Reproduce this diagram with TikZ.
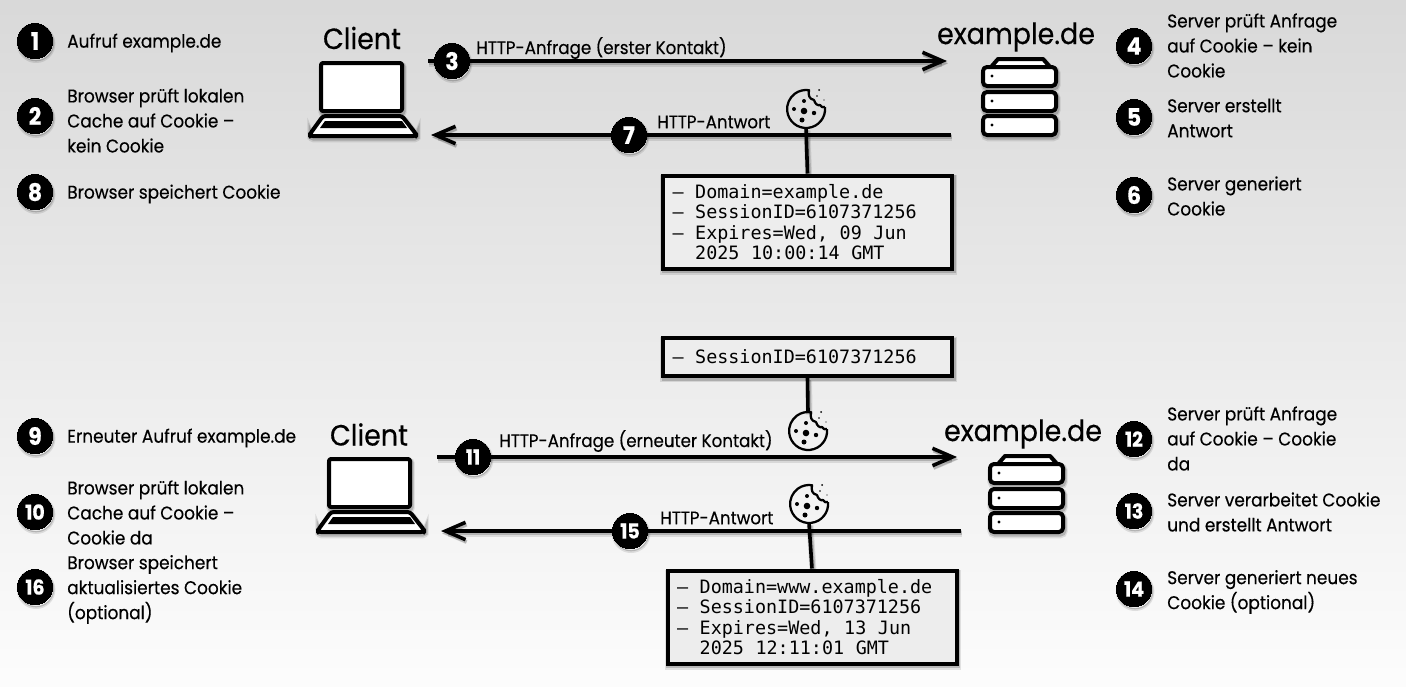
\documentclass[tikz,border=0pt]{standalone}
\usepackage{fontspec}
\setmainfont{Poppins}[FakeStretch=0.92,FakeBold=0.35]
\newfontfamily\monof{DejaVu Sans Mono}
\usetikzlibrary{arrows.meta}
\definecolor{bgtop}{gray}{0.85}
\definecolor{bgbot}{gray}{0.99}
\definecolor{boxfill}{gray}{0.93}
\newcommand{\msp}{\ \kern4.1pt\relax}
\tikzset{
  softshadow/.style={preaction={draw=black,opacity=.10,line width=#1+2.5pt,transform canvas={xshift=.8pt,yshift=-2pt}},
                     preaction={draw=black,opacity=.18,line width=#1+.8pt,transform canvas={xshift=.8pt,yshift=-1.6pt}}},
  wire/.style={draw=black,line width=2.7pt,softshadow=2.7pt},
  flow/.style={wire,-{Straight Barb[length=15pt,width=13pt,line width=2.7pt]}},
  badge/.style={circle,fill=black,draw=black,line width=0pt,minimum size=26.5pt,inner sep=0pt,text=white,
     font=\fontsize{18}{18}\selectfont\bfseries,softshadow=0pt},
  dbl/.style={font=\fontsize{15.5}{15.5}\selectfont\bfseries},
  step text/.style={anchor=west,align=left,inner sep=0pt,font=\fontsize{13.8}{18.75}\selectfont},
  title/.style={anchor=center,inner sep=0pt,font=\fontsize{22}{24}\selectfont},
  conn label/.style={anchor=west,inner sep=0pt,font=\fontsize{13.6}{15}\selectfont},
  cookiespot/.style={circle,minimum size=28.5pt,inner sep=0pt,outer sep=0pt},
  cookiebox/.style={draw=black,line width=3pt,fill=boxfill,softshadow=3pt,inner sep=0pt,align=left,
     font=\monof\fontsize{13.8}{15.4}\selectfont},
  thick icon/.style={draw=black,line width=3pt,fill=white,line join=round},
  laptop/.pic={
    \draw[thick icon,softshadow=3pt,rounded corners=1.5pt] (0,0) rectangle (81,48);
    \draw[thick icon,softshadow=3pt,rounded corners=2pt] (2,53) -- (-11,71) -- (-11,73) -- (95,73) -- (95,71) -- (81,53) -- cycle;
    \fill[black] (4,58) -- (-1,65) -- (86,65) -- (81,58) -- cycle;
  },
  server/.pic={
    \draw[thick icon,softshadow=3pt] (8,9) -- (15,1) -- (60,1) -- (67,9) -- cycle;
    \draw[thick icon,softshadow=3pt,rounded corners=3pt] (0,9) rectangle (73,28);
    \draw[thick icon,softshadow=3pt,rounded corners=3pt] (0,34) rectangle (73,53);
    \draw[thick icon,softshadow=3pt,rounded corners=3pt] (0,58) rectangle (73,77);
    \fill[black] (9,18) circle[radius=1.7] (9,43) circle[radius=1.7] (9,67) circle[radius=1.7];
  },
  cookie/.pic={
    \draw[black,line width=1.7pt,line join=round] (19,-2) arc[start angle=-6,end angle=279,radius=19]
       .. controls (2,-14) and (3,-10) .. (8,-9)
       .. controls (9,-5) and (12,-3) .. (14,-4)
       .. controls (15,-2) and (17,-1) .. (19,-2);
    \fill[black] (-2,2) circle[radius=3.3] (-12,0) circle[radius=2] (-2,-8) circle[radius=2]
       (8,4) circle[radius=2.2] (-4,11) circle[radius=2.5]
       (13,-19) circle[radius=1] (11,-13) circle[radius=.9] (18,-9) circle[radius=.6];
  }
}
\begin{document}
\begin{tikzpicture}[x=0.75pt,y=-0.75pt]
\shade[top color=bgtop,bottom color=bgbot] (0,0) rectangle (1406,686);
\useasboundingbox (0,0) rectangle (1406,686);

% named ends
\coordinate (req1s) at (428,61);  \coordinate (req1e) at (947,61);
\coordinate (res1s) at (951,135); \coordinate (res1e) at (431,135);
\coordinate (req2s) at (437,457); \coordinate (req2e) at (957,457);
\coordinate (res2s) at (961,531); \coordinate (res2e) at (441,531);

% connectors
\draw[flow] (req1s) -- (req1e);
\draw[flow] (res1s) -- (res1e);
\draw[flow] (req2s) -- (req2e);
\draw[flow] (res2s) -- (res2e);

% cookie anchors and boxes
\node[cookiespot] (ck1) at (806,109) {};
\node[cookiespot] (ck2) at (808,431) {};
\node[cookiespot] (ck3) at (809,504) {};
\node[cookiebox,minimum width=216.75pt,minimum height=69.75pt,text width=202.5pt] (box1) at (807.5,222) {–\msp Domain=example.de\\–\msp SessionID=6107371256\\–\msp Expires=Wed,\msp 09\msp Jun\\\phantom{–}\msp 2025\msp 10:00:14\msp GMT};
\node[cookiebox,minimum width=216.75pt,minimum height=28.5pt,text width=202.5pt] (box2) at (807.5,357) {–\msp SessionID=6107371256};
\node[cookiebox,minimum width=216.75pt,minimum height=69.75pt,text width=202.5pt] (box3) at (812,617) {–\msp Domain=www.example.de\\–\msp SessionID=6107371256\\–\msp Expires=Wed,\msp 13\msp Jun\\\phantom{–}\msp 2025\msp 12:11:01\msp GMT};
\draw[wire] (ck1.south) -- (box1.north);
\draw[wire] (box2.south) -- (ck2.north);
\draw[wire] (ck3.south) -- (box3.north);
\pic at (ck1) {cookie};
\pic at (ck2) {cookie};
\pic at (ck3) {cookie};

% icons
\pic at (321,63) {laptop};
\pic at (329,459) {laptop};
\pic at (983,58) {server};
\pic at (990,455) {server};

% titles
\node[title] (cl1) at (362,38) {Client};
\node[title] (ex1) at (1016,37) {example.de};
\node[title] (cl2) at (369,434.5) {Client};
\node[title] (ex2) at (1023,434) {example.de};

% connector labels
\node[conn label] (l3) at (476,48) {HTTP-Anfrage (erster Kontakt)};
\node[conn label] (l7) at (657,122) {HTTP-Antwort};
\node[conn label] (l11) at (499,441) {HTTP-Anfrage (erneuter Kontakt)};
\node[conn label] (l15) at (660,518) {HTTP-Antwort};

% badges
\node[badge] (b1) at (35,41) {1};
\node[badge] (b2) at (35,116) {2};
\node[badge] (b8) at (35,192) {8};
\node[badge] (b3) at (452,61) {3};
\node[badge] (b7) at (629,135) {7};
\node[badge] (b4) at (1134,46) {4};
\node[badge] (b5) at (1134,117) {5};
\node[badge] (b6) at (1134,195) {6};
\node[badge] (b9) at (35,436) {9};
\node[badge,dbl] (b10) at (35,512) {10};
\node[badge,dbl] (b16) at (35,587) {16};
\node[badge,dbl] (b11) at (473,457) {11};
\node[badge,dbl] (b15) at (630,531) {15};
\node[badge,dbl] (b12) at (1134,439) {12};
\node[badge,dbl] (b13) at (1134,511) {13};
\node[badge,dbl] (b14) at (1134,589) {14};

% step texts
\node[step text] (t1) at (67,43) {Aufruf example.de};
\node[step text] (t2) at (67,120.5) {Browser prüft lokalen\\Cache auf Cookie –\\kein Cookie};
\node[step text] (t8) at (67,194) {Browser speichert Cookie};
\node[step text] (t4) at (1167,45.5) {Server prüft Anfrage\\auf Cookie – kein\\Cookie};
\node[step text] (t5) at (1167,118) {Server erstellt\\Antwort};
\node[step text] (t6) at (1167,196) {Server generiert\\Cookie};
\node[step text] (t9) at (67,438) {Erneuter Aufruf example.de};
\node[step text] (t10) at (67,512.5) {Browser prüft lokalen\\Cache auf Cookie –\\Cookie da};
\node[step text] (t16) at (67,589.5) {Browser speichert\\aktualisiertes Cookie\\(optional)};
\node[step text] (t12) at (1167,438.5) {Server prüft Anfrage\\auf Cookie – Cookie\\da};
\node[step text] (t13) at (1167,512) {Server verarbeitet Cookie\\und erstellt Antwort};
\node[step text] (t14) at (1167,592) {Server generiert neues\\Cookie (optional)};
\end{tikzpicture}
\end{document}
